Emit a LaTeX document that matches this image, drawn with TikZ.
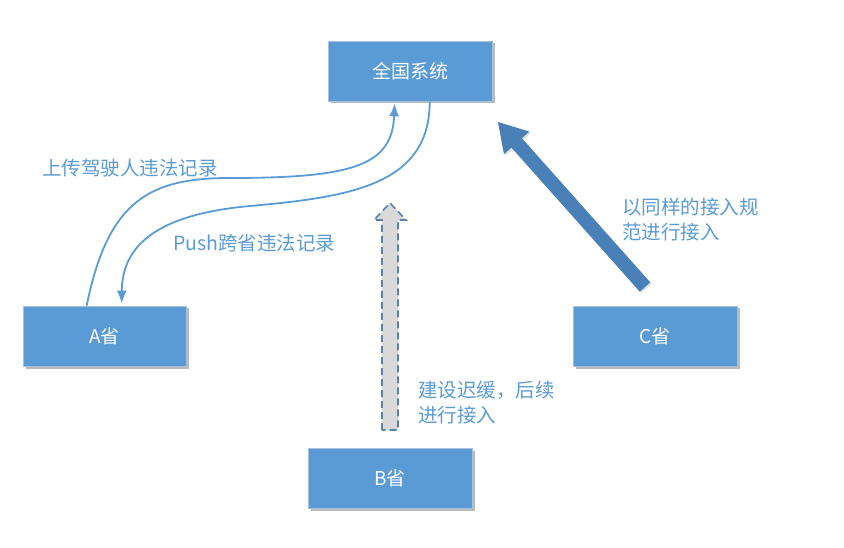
\documentclass[tikz,border=0pt]{standalone}
\usepackage{fontspec}
\setmainfont{Noto Sans CJK SC}
\usetikzlibrary{arrows.meta,shadows,calc}
\definecolor{boxblue}{HTML}{5B9BD5}
\definecolor{boxedge}{HTML}{A7C0DE}
\definecolor{lblblue}{HTML}{5B9BD5}
\definecolor{bigarrow}{HTML}{4A80B8}
\definecolor{dashedge}{HTML}{5C80A8}
\definecolor{dashfill}{HTML}{D9D9D9}
\begin{document}
\begin{tikzpicture}[x=1pt,y=-1pt,
  box/.style={rectangle, fill=boxblue, draw=boxedge, line width=0.6pt,
    minimum width=164pt, minimum height=60pt, inner sep=0pt,
    text=white, font=\fontsize{19}{22}\selectfont,
    drop shadow={shadow xshift=2.5pt, shadow yshift=-2.5pt, opacity=0.45, fill=black!60}},
  lbl/.style={text=lblblue, font=\fontsize{19.5}{25}\selectfont, inner sep=0pt, align=left},
  flow/.style={draw=lblblue, line width=1.8pt, -{Latex[length=13pt,width=10pt]}}]
\useasboundingbox (0,0) rectangle (844,548);
% boxes
\node[box] (sys) at (410,71) {全国系统};
\node[box, minimum width=163pt] (A) at (104.5,336) {A省};
\node[box] (B) at (390,478) {B省};
\node[box] (C) at (655,336) {C省};
% upload curve
\coordinate (upS) at ($(A.north west)+(64,0)$);
\coordinate (upE) at ($(sys.south west)+(67,2)$);
\draw[flow] (upS) .. controls (108,200) and (150,178) .. (230,178)
  .. controls (355,178) and (392,165) .. (upE);
% push curve
\coordinate (pS) at ($(sys.south west)+(102,0)$);
\coordinate (pE) at ($(A.north west)+(99,-2)$);
\draw[flow] (pS) .. controls (430,185) and (350,197) .. (250,206)
  .. controls (150,215) and (122,250) .. (pE);
% labels
\node[lbl, fill=white, anchor=west, inner xsep=1pt] (l1) at (41,168) {上传驾驶人违法记录};
\node[lbl, anchor=west] (l2) at (173,243) {Push跨省违法记录};
\node[lbl, anchor=north west] (l3) at (418,381) {建设迟缓，后续\\进行接入};
\node[lbl, anchor=north west] (l4) at (622,198) {以同样的接入规\\范进行接入};
% dashed block arrow
\coordinate (dT) at (390,203);
\draw[dashedge, fill=dashfill, line width=1.6pt, dash pattern=on 7pt off 4pt, line join=miter]
  (382,430) -- (382,220) -- (374,220) -- (dT) -- (406,220) -- (398,220) -- (398,430) -- cycle;
% big arrow from C
\coordinate (bT) at (498,122);
\coordinate (bS) at (645,287);
\coordinate (bH) at ($(bT)!28pt!(bS)$);
\coordinate (s1) at ($(bS)!7pt!90:(bT)$);
\coordinate (s2) at ($(bS)!7pt!-90:(bT)$);
\coordinate (h1) at ($(bH)!7pt!90:(bT)$);
\coordinate (h2) at ($(bH)!17pt!90:(bT)$);
\coordinate (h3) at ($(bH)!17pt!-90:(bT)$);
\coordinate (h4) at ($(bH)!7pt!-90:(bT)$);
\fill[bigarrow, drop shadow={shadow xshift=1.5pt, shadow yshift=-1.5pt, opacity=0.25}]
  (s1) -- (h1) -- (h2) -- (bT) -- (h3) -- (h4) -- (s2) -- cycle;
\end{tikzpicture}
\end{document}
